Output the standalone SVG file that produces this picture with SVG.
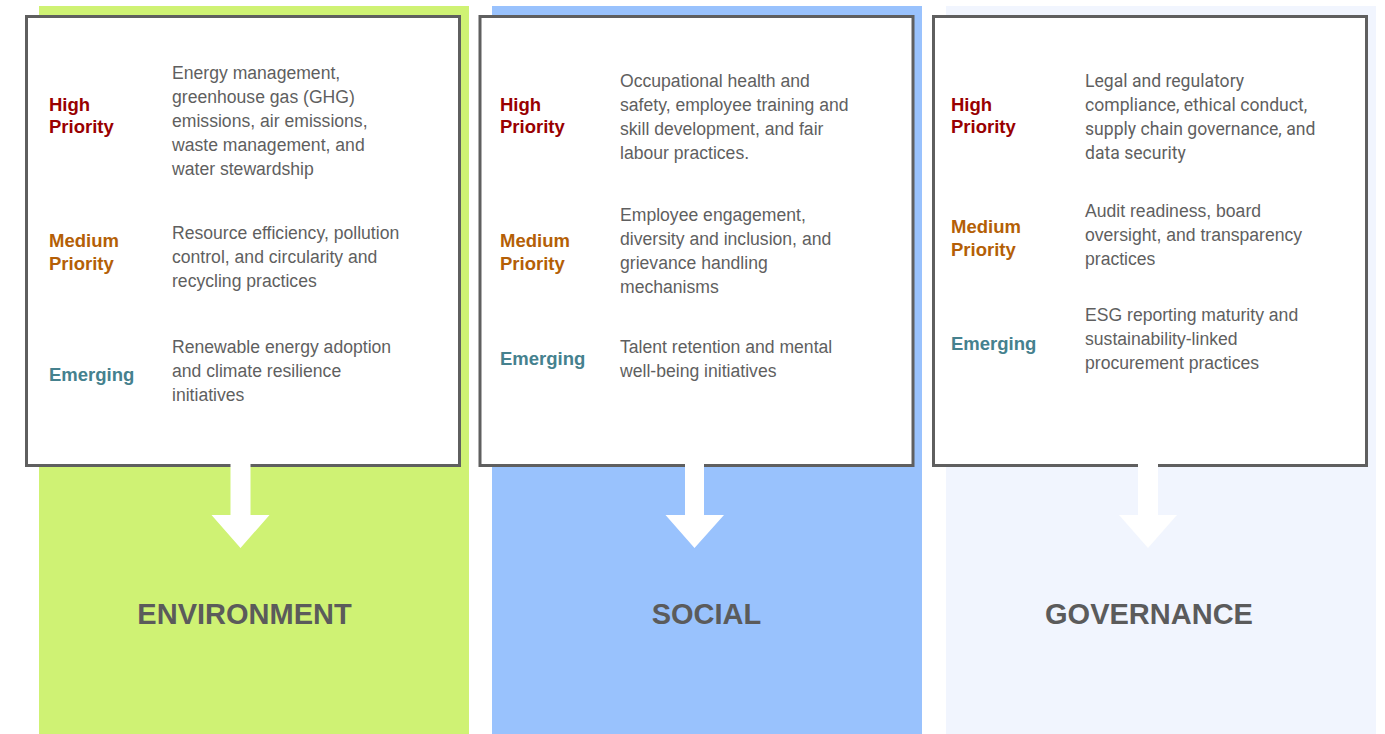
<svg xmlns="http://www.w3.org/2000/svg" width="1385" height="734" viewBox="0 0 1385 734">
<style>
.box{fill:#ffffff;stroke:#5f5f5f;stroke-width:3}
.lbl{font-family:"Liberation Sans",Arial,sans-serif;font-weight:bold;font-size:18.5px}
.high{fill:#990000}
.med{fill:#b45f06}
.emg{fill:#45818e}
.desc{font-family:"Liberation Sans",Arial,sans-serif;font-size:17.6px;fill:#5f5f5f}
.roboto{font-family:Roboto,"Liberation Sans",sans-serif}
.title{font-family:"Liberation Sans",Arial,sans-serif;font-weight:bold;font-size:29px;fill:#5b5b5b;text-anchor:middle}
.arrow{fill:#ffffff}
</style>
<rect width="1385" height="734" fill="#ffffff"/>
<g id="col-environment">
<rect x="39" y="6" width="430" height="728" fill="#cff274"/>
<text class="title" x="244.5" y="624">ENVIRONMENT</text>
</g>
<g id="col-social">
<rect x="492" y="6" width="430" height="728" fill="#99c2fd"/>
<text class="title" x="706.5" y="624">SOCIAL</text>
</g>
<g id="col-governance">
<rect x="946" y="6" width="430" height="728" fill="#f1f5fe"/>
<text class="title" x="1149" y="624">GOVERNANCE</text>
</g>
<g id="box-environment">
<rect class="box" x="26.5" y="16.5" width="433" height="449"/>
<text class="lbl high" x="49"><tspan x="49" y="111">High</tspan><tspan x="49" y="133">Priority</tspan></text>
<text class="desc"><tspan x="172" y="79">Energy management,</tspan><tspan x="172" y="103">greenhouse gas (GHG)</tspan><tspan x="172" y="127">emissions, air emissions,</tspan><tspan x="172" y="151">waste management, and</tspan><tspan x="172" y="175">water stewardship</tspan></text>
<text class="lbl med"><tspan x="49" y="247">Medium</tspan><tspan x="49" y="270">Priority</tspan></text>
<text class="desc"><tspan x="172" y="239">Resource efficiency, pollution</tspan><tspan x="172" y="263">control, and circularity and</tspan><tspan x="172" y="287">recycling practices</tspan></text>
<text class="lbl emg" x="49" y="381">Emerging</text>
<text class="desc"><tspan x="172" y="353">Renewable energy adoption</tspan><tspan x="172" y="377">and climate resilience</tspan><tspan x="172" y="401">initiatives</tspan></text>
</g>
<g id="box-social">
<rect class="box" x="480" y="16.5" width="433" height="449"/>
<text class="lbl high"><tspan x="500" y="111">High</tspan><tspan x="500" y="133">Priority</tspan></text>
<text class="desc"><tspan x="620" y="87">Occupational health and</tspan><tspan x="620" y="111">safety, employee training and</tspan><tspan x="620" y="135">skill development, and fair</tspan><tspan x="620" y="159">labour practices.</tspan></text>
<text class="lbl med"><tspan x="500" y="247">Medium</tspan><tspan x="500" y="270">Priority</tspan></text>
<text class="desc"><tspan x="620" y="221">Employee engagement,</tspan><tspan x="620" y="245">diversity and inclusion, and</tspan><tspan x="620" y="269">grievance handling</tspan><tspan x="620" y="293">mechanisms</tspan></text>
<text class="lbl emg" x="500" y="365">Emerging</text>
<text class="desc"><tspan x="620" y="353">Talent retention and mental</tspan><tspan x="620" y="377">well-being initiatives</tspan></text>
</g>
<g id="box-governance">
<rect class="box" x="933.5" y="16.5" width="433" height="449"/>
<text class="lbl high"><tspan x="951" y="111">High</tspan><tspan x="951" y="133">Priority</tspan></text>
<text class="desc roboto"><tspan x="1085" y="87">Legal and regulatory</tspan><tspan x="1085" y="111">compliance, ethical conduct,</tspan><tspan x="1085" y="135">supply chain governance, and</tspan><tspan x="1085" y="159">data security</tspan></text>
<text class="lbl med"><tspan x="951" y="233">Medium</tspan><tspan x="951" y="256">Priority</tspan></text>
<text class="desc"><tspan x="1085" y="217">Audit readiness, board</tspan><tspan x="1085" y="241">oversight, and transparency</tspan><tspan x="1085" y="265">practices</tspan></text>
<text class="lbl emg" x="951" y="350">Emerging</text>
<text class="desc"><tspan x="1085" y="321">ESG reporting maturity and</tspan><tspan x="1085" y="345">sustainability-linked</tspan><tspan x="1085" y="369">procurement practices</tspan></text>
</g>
<g id="connectors">
<polygon class="arrow" points="230.5,462 250.5,462 250.5,515 269.5,515 240.5,548 211.5,515 230.5,515"/>
<polygon class="arrow" points="685,462 704,462 704,515 724,515 694.5,548 665.5,515 685,515"/>
<polygon class="arrow" points="1138,462 1158,462 1158,515 1177,515 1148,548 1119,515 1138,515"/>
</g>
</svg>
